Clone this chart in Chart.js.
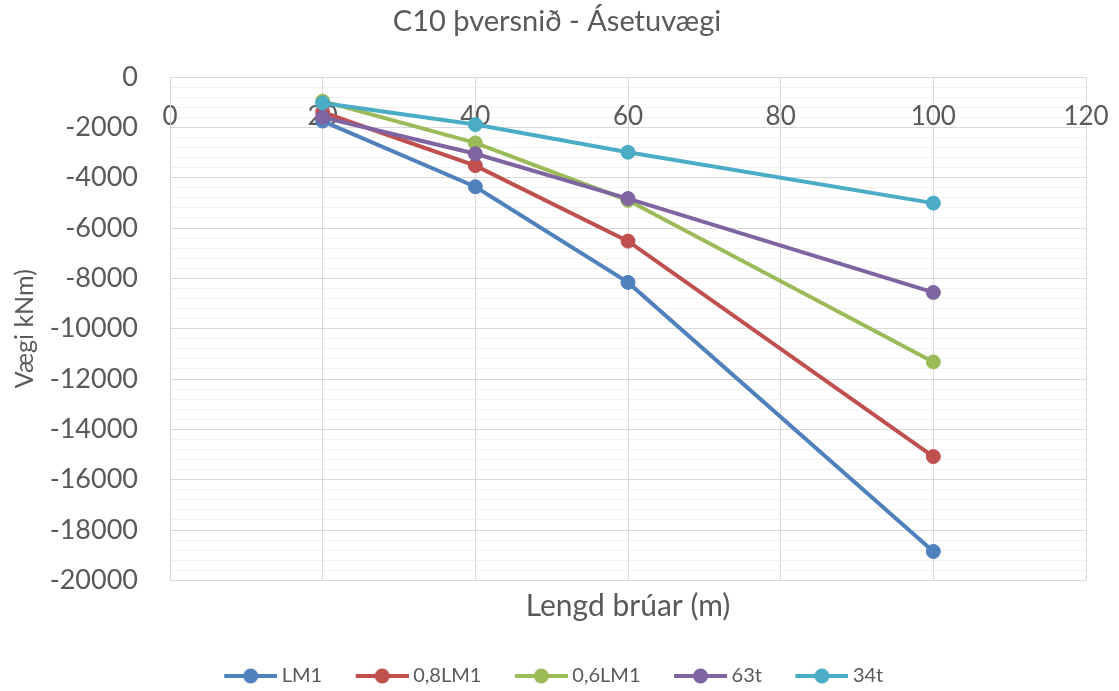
<!DOCTYPE html>
<html><head><meta charset="utf-8">
<script src="https://cdn.jsdelivr.net/npm/chart.js@4/dist/chart.umd.min.js"></script>
<style>html,body{margin:0;padding:0;background:#fff;}#wrap{width:1119px;height:691px;}</style>
</head><body><div id="wrap"><canvas id="c"></canvas></div>
<script>
const lengths = [20, 40, 60, 100];
const LM1 = [-1750, -4360, -8160, -18850];
const LM1_08 = [-1400, -3520, -6520, -15080];
const LM1_06 = [-960, -2620, -4900, -11320];
const t63 = [-1600, -3050, -4830, -8560];
const t34 = [-1030, -1890, -2990, -5010];
const seriesNames = ['LM1', '0,8LM1', '0,6LM1', '63t', '34t'];
const seriesValues = [LM1, LM1_08, LM1_06, t63, t34];
const colors = ['#4F81BD', '#C0504D', '#9BBB59', '#8064A2', '#4BACC6'];
const xTickLabels = [0, 20, 40, 60, 80, 100, 120];
const yMajorStep = 2000;

const TEXT = '#595959';
Chart.defaults.font.family = 'Lato';
Chart.defaults.color = TEXT;

const LEG_FONT = 20, LEG_PAD = 4, LEG_W = 77, ICON_W = 53, IMG_W = LEG_W + 11;
function legendIcon(color) {
  const c = document.createElement('canvas');
  c.width = IMG_W; c.height = 18;
  const g = c.getContext('2d');
  const x0 = IMG_W - ICON_W;
  g.strokeStyle = color; g.lineWidth = 4;
  g.beginPath(); g.moveTo(x0, 9); g.lineTo(IMG_W, 9); g.stroke();
  g.fillStyle = color;
  g.beginPath(); g.arc(x0 + ICON_W / 2, 9, 7.5, 0, Math.PI * 2); g.fill();
  return c;
}
const icons = colors.map(legendIcon);

const datasets = seriesNames.map((name, i) => ({
  label: name,
  data: lengths.map((x, j) => ({ x: x, y: seriesValues[i][j] })),
  borderColor: colors[i],
  backgroundColor: colors[i],
  pointBackgroundColor: colors[i],
  pointBorderColor: colors[i],
  pointBorderWidth: 1,
  pointRadius: 7,
  borderWidth: 4,
  tension: 0,
  order: seriesNames.length - i
}));

const boxShift = {
  id: 'boxShift',
  afterLayout(chart) {
    const l = chart.legend;
    if (l) { l.left += -4; l.right += -4; l.top += 5; l.bottom += 5; }
    const t = chart.titleBlock;
    if (t) { t.left += 14; t.right += 14; }
  }
};

const noSidePadding = (s) => { s.paddingLeft = 0; s.paddingRight = 0; };

new Chart(document.getElementById('c'), {
  type: 'line',
  data: { datasets },
  plugins: [boxShift],
  options: {
    responsive: true,
    maintainAspectRatio: false,
    animation: false,
    layout: { padding: { left: 0, right: 33, top: 0, bottom: 0 } },
    plugins: {
      title: {
        display: true,
        text: 'C10 þversnið - Ásetuvægi',
        color: TEXT,
        font: { size: 29, weight: 'normal' },
        padding: { top: 4.6, bottom: 37.6 }
      },
      legend: {
        position: 'bottom',
        labels: {
          usePointStyle: true,
          pointStyleWidth: LEG_W,
          padding: LEG_PAD,
          color: TEXT,
          font: { size: LEG_FONT },
          generateLabels: (chart) => chart.data.datasets.map((ds, i) => ({
            text: ds.label,
            fillStyle: colors[i],
            strokeStyle: colors[i],
            lineWidth: 0,
            hidden: false,
            datasetIndex: i,
            pointStyle: icons[i],
            fontColor: TEXT
          }))
        }
      },
      tooltip: { enabled: false }
    },
    scales: {
      x: {
        type: 'linear',
        position: { y: 0 },
        min: 0, max: 120,
        afterBuildTicks: (s) => { s.ticks = xTickLabels.map(v => ({ value: v })); },
        afterFit: noSidePadding,
        ticks: { stepSize: 20, font: { size: 26 }, color: TEXT, padding: 24, maxRotation: 0, autoSkip: false },
        grid: { color: '#d9d9d9', lineWidth: 1, drawTicks: false },
        border: { display: false }
      },
      x2: {
        type: 'linear',
        axis: 'x',
        position: 'bottom',
        min: 0, max: 120,
        afterFit: noSidePadding,
        ticks: { display: false },
        grid: { display: false, drawTicks: false },
        border: { display: false },
        title: { display: true, text: 'Lengd brúar (m)', color: TEXT, font: { size: 30 }, padding: { top: 8, bottom: 32.6 } }
      },
      y: {
        type: 'linear',
        min: -20000, max: 0,
        afterFit: (s) => { s.width = 170; },
        ticks: {
          stepSize: 400,
          autoSkip: false,
          font: { size: 27 },
          color: TEXT,
          padding: 32,
          callback: (v) => (Math.round(v) % yMajorStep === 0 ? String(Math.round(v)) : '')
        },
        grid: {
          drawTicks: false,
          lineWidth: 1,
          color: (ctx) => (ctx.tick && Math.round(ctx.tick.value) % yMajorStep === 0 ? '#d9d9d9' : '#f2f2f2')
        },
        border: { display: true, color: '#d9d9d9' },
        title: { display: true, text: 'Vægi kNm)', color: TEXT, font: { size: 25 }, padding: { top: 10, bottom: 0 } }
      }
    }
  }
});
</script>
</body></html>
